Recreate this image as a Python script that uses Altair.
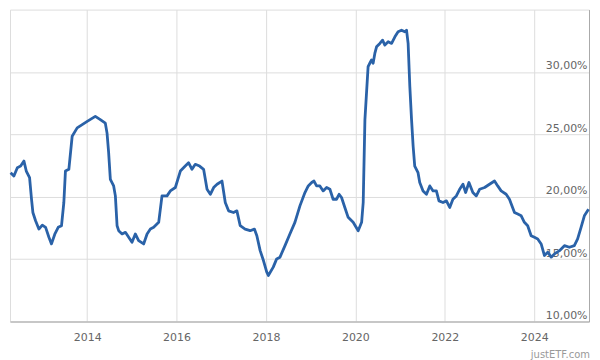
import altair as alt
import pandas as pd

dates = [
    "2012-04-15", "2012-05-12", "2012-06-09", "2012-07-06", "2012-08-02", "2012-08-21",
    "2012-09-17", "2012-10-03", "2012-10-14", "2012-11-05", "2012-12-02", "2012-12-30",
    "2013-01-26", "2013-02-22", "2013-03-15", "2013-04-11", "2013-05-09", "2013-06-05",
    "2013-06-24", "2013-07-07", "2013-08-04", "2013-08-31", "2013-10-11", "2013-11-21",
    "2014-01-01", "2014-03-08", "2014-04-18", "2014-05-29", "2014-06-12", "2014-06-25",
    "2014-07-09", "2014-08-05", "2014-08-19", "2014-09-02", "2014-09-15", "2014-10-13",
    "2014-11-09", "2014-12-06", "2015-01-02", "2015-01-29", "2015-02-25", "2015-04-07",
    "2015-05-05", "2015-06-01", "2015-06-28", "2015-08-08", "2015-09-04", "2015-10-15",
    "2015-11-11", "2015-12-22", "2016-02-01", "2016-03-12", "2016-04-08", "2016-05-06",
    "2016-06-02", "2016-07-07", "2016-08-09", "2016-09-06", "2016-10-03", "2016-10-30",
    "2016-11-27", "2017-01-06", "2017-02-02", "2017-03-01", "2017-04-10", "2017-05-08",
    "2017-06-04", "2017-07-14", "2017-08-24", "2017-09-28", "2017-10-18", "2017-11-14",
    "2017-12-11", "2018-01-07", "2018-01-20", "2018-03-01", "2018-03-29", "2018-04-25",
    "2018-06-05", "2018-07-15", "2018-08-25", "2018-10-05", "2018-11-15", "2018-12-12",
    "2019-01-09", "2019-01-28", "2019-02-18", "2019-03-17", "2019-04-13", "2019-05-11",
    "2019-06-07", "2019-07-03", "2019-07-31", "2019-08-21", "2019-09-10", "2019-10-07",
    "2019-11-03", "2019-12-14", "2020-01-24", "2020-02-21", "2020-03-05", "2020-03-19",
    "2020-04-01", "2020-04-14", "2020-04-28", "2020-05-12", "2020-05-25", "2020-06-08",
    "2020-06-22", "2020-07-19", "2020-08-10", "2020-08-29", "2020-09-25", "2020-10-23",
    "2020-11-19", "2020-12-15", "2021-01-12", "2021-02-08", "2021-02-22", "2021-03-07",
    "2021-03-21", "2021-04-04", "2021-04-17", "2021-04-30", "2021-05-27", "2021-06-10",
    "2021-07-07", "2021-08-04", "2021-08-31", "2021-09-27", "2021-10-24", "2021-11-14",
    "2021-12-17", "2022-01-14", "2022-02-10", "2022-03-08", "2022-04-05", "2022-05-02",
    "2022-05-29", "2022-06-20", "2022-07-17", "2022-08-18", "2022-09-15", "2022-10-12",
    "2022-11-22", "2023-01-01", "2023-02-11", "2023-03-09", "2023-04-06", "2023-05-17",
    "2023-06-13", "2023-07-24", "2023-08-20", "2023-09-17", "2023-10-13", "2023-11-09",
    "2023-12-07", "2024-01-03", "2024-01-30", "2024-02-27", "2024-03-25", "2024-04-21",
    "2024-05-19", "2024-06-15", "2024-07-26", "2024-09-04", "2024-10-15", "2024-11-24",
    "2024-12-21", "2025-01-18", "2025-02-14", "2025-03-20",
]

volatility = [
    21.93, 21.66, 22.33, 22.46, 22.86, 22.06,
    21.53, 19.80, 18.74, 18.08, 17.41, 17.73,
    17.55, 16.75, 16.22, 17.00, 17.55, 17.68,
    19.54, 22.06, 22.20, 24.85, 25.52, 25.78,
    26.04, 26.44, 26.18, 25.90, 25.10, 23.53,
    21.40, 20.87, 20.07, 17.68, 17.28, 17.02,
    17.15, 16.75, 16.35, 17.02, 16.48, 16.22,
    17.02, 17.41, 17.55, 17.95, 20.07, 20.07,
    20.47, 20.74, 22.06, 22.46, 22.73, 22.20,
    22.60, 22.46, 22.20, 20.60, 20.20, 20.74,
    21.00, 21.26, 19.54, 18.87, 18.74, 18.87,
    17.68, 17.41, 17.28, 17.41, 16.88, 15.68,
    14.89, 13.96, 13.69, 14.36, 15.02, 15.16,
    16.08, 17.02, 17.95, 19.27, 20.34, 20.87,
    21.14, 21.26, 20.87, 20.87, 20.47, 20.74,
    20.60, 19.80, 19.80, 20.20, 19.94, 19.14,
    18.35, 17.95, 17.28, 17.95, 19.54, 26.18,
    28.31, 30.43, 30.70, 30.96, 30.70, 31.49,
    32.02, 32.29, 32.55, 32.16, 32.42, 32.29,
    32.82, 33.22, 33.35, 33.22, 33.35, 32.29,
    28.83, 26.18, 24.05, 22.46, 21.93, 21.14,
    20.47, 20.20, 20.87, 20.47, 20.47, 19.67,
    19.54, 19.67, 19.14, 19.80, 20.07, 20.60,
    21.00, 20.34, 21.14, 20.34, 20.07, 20.60,
    20.74, 21.00, 21.26, 20.87, 20.47, 20.20,
    19.80, 18.74, 18.61, 18.47, 17.95, 17.68,
    16.88, 16.75, 16.62, 16.22, 15.29, 15.56,
    15.16, 15.42, 15.68, 16.08, 15.95, 16.08,
    16.62, 17.55, 18.47, 19.00,
]

x_domain = ["2012-04-10", "2025-03-24"]
y_ticks = [10, 15, 20, 25, 30]
x_ticks = ["2014-01-01", "2016-01-01", "2018-01-01", "2020-01-01", "2022-01-01", "2024-01-01"]

df = pd.DataFrame({"date": pd.to_datetime(dates), "vol": volatility})

font = "DejaVu Sans"

chart = alt.Chart(df).mark_line(
    color="#2a62a8", strokeWidth=2.8, interpolate="linear", strokeJoin="round"
).encode(
    x=alt.X(
        "date:T",
        scale=alt.Scale(domain=x_domain, nice=False),
        axis=alt.Axis(
            title=None,
            values=[pd.Timestamp(v).isoformat() for v in x_ticks],
            format="%Y",
            grid=True,
            gridColor="#dddddd",
            ticks=False,
            domainColor="#aaaaaa",
            labelColor="#666666",
            labelFont=font,
            labelFontSize=11,
            labelPadding=10,
        ),
    ),
    y=alt.Y(
        "vol:Q",
        scale=alt.Scale(domain=[10, 35], nice=False, zero=False),
        axis=alt.Axis(
            title=None,
            orient="right",
            values=y_ticks,
            labelExpr="replace(format(datum.value, '.2f'), '.', ',') + '%'",
            grid=True,
            gridColor="#dddddd",
            ticks=False,
            domainColor="#aaaaaa",
            labelColor="#666666",
            labelFont=font,
            labelFontSize=11,
            labelAlign="right",
            labelBaseline="bottom",
            labelPadding=-2,
            labelOffset=-1,
        ),
    ),
).properties(
    width=581,
    height=313,
    padding={"left": 1, "top": 1, "right": 2, "bottom": 1},
    title=alt.TitleParams(
        "justETF.com",
        orient="bottom",
        anchor="end",
        font=font,
        fontSize=10,
        fontWeight="normal",
        color="#999999",
        offset=8,
    ),
).configure_view(
    stroke="#dddddd"
).configure(background="white")

chart.save("out.html", embed_options={"renderer": "svg", "actions": False})
